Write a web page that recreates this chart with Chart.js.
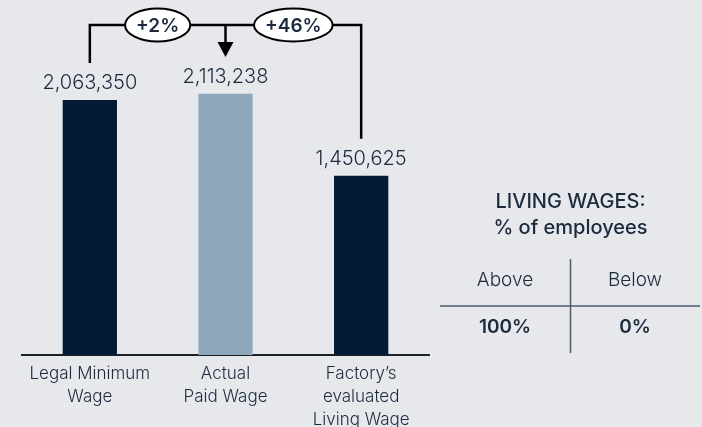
<!DOCTYPE html>
<html>
<head>
<meta charset="utf-8">
<script src="https://cdn.jsdelivr.net/npm/chart.js@4"></script>
<style>
  html, body { margin: 0; padding: 0; background: #e6e8ec; }
  canvas { display: block; }
</style>
</head>
<body>
<canvas id="wageChart" width="702" height="427"></canvas>
<script>
// Chart data
const categories = [['Legal Minimum', 'Wage'], ['Actual', 'Paid Wage'], ["Factory\u2019s", 'evaluated', 'Living Wage']];
const wageValues = [2063350, 2113238, 1450625];
const barColors = ['#021a33', '#8fa7ba', '#021a33'];
const gapLabels = ['+2%', '+46%'];

// Side table
const tableTitle = ['LIVING WAGES:', '% of employees'];
const tableHeaders = ['Above', 'Below'];
const tableValues = ['100%', '0%'];

const textColor = '#1b2a3d';
const fontFamily = 'Inter, "Noto Sans", sans-serif';

// value labels above bars
const valueLabels = {
    id: 'valueLabels',
    afterDatasetsDraw(chart) {
        const ctx = chart.ctx;
        const meta = chart.getDatasetMeta(0);
        ctx.save();
        ctx.fillStyle = textColor;
        ctx.font = '300 20px ' + fontFamily;
        ctx.textAlign = 'center';
        ctx.textBaseline = 'alphabetic';
        meta.data.forEach((bar, i) => {
            ctx.fillText(wageValues[i].toLocaleString('en-US'), bar.x, bar.y - 11);
        });
        ctx.restore();
    }
};

// bracket with percentage pills
const brackets = {
    id: 'brackets',
    afterDatasetsDraw(chart) {
        const ctx = chart.ctx;
        const bars = chart.getDatasetMeta(0).data;
        const lineY = chart.chartArea.top + 16;
        const x1 = bars[0].x, x2 = bars[1].x, x3 = bars[2].x;
        ctx.save();
        ctx.strokeStyle = '#000';
        ctx.lineWidth = 2.5;
        ctx.beginPath();
        ctx.moveTo(x1, bars[0].y - 37);
        ctx.lineTo(x1, lineY);
        ctx.lineTo(x3, lineY);
        ctx.lineTo(x3, bars[2].y - 37);
        ctx.stroke();
        // arrow down to the actual wage
        ctx.beginPath();
        ctx.moveTo(x2, lineY);
        ctx.lineTo(x2, lineY + 18);
        ctx.stroke();
        ctx.fillStyle = '#000';
        ctx.beginPath();
        ctx.moveTo(x2 - 8, lineY + 17);
        ctx.lineTo(x2 + 8, lineY + 17);
        ctx.lineTo(x2, lineY + 32);
        ctx.closePath();
        ctx.fill();

        ctx.font = '600 19px ' + fontFamily;
        ctx.textAlign = 'center';
        ctx.textBaseline = 'middle';
        const centers = [(x1 + x2) / 2, (x2 + x3) / 2];
        gapLabels.forEach((txt, i) => {
            const w = ctx.measureText(txt).width;
            ctx.beginPath();
            ctx.ellipse(centers[i], lineY, w / 2 + 11, 16.5, 0, 0, Math.PI * 2);
            ctx.fillStyle = '#fff';
            ctx.fill();
            ctx.lineWidth = 2;
            ctx.stroke();
            ctx.fillStyle = textColor;
            ctx.fillText(txt, centers[i], lineY + 1);
        });
        ctx.restore();
    }
};

// small table on the right
const sideTable = {
    id: 'sideTable',
    afterDraw(chart) {
        const ctx = chart.ctx;
        const cx = 570.5;
        ctx.save();
        ctx.fillStyle = textColor;
        ctx.textAlign = 'center';
        ctx.textBaseline = 'middle';
        ctx.font = '500 20px ' + fontFamily;
        ctx.fillText(tableTitle[0], cx, 202);
        ctx.fillText(tableTitle[1], cx, 228);

        ctx.strokeStyle = '#4b5b6b';
        ctx.lineWidth = 1.5;
        ctx.beginPath();
        ctx.moveTo(cx, 259);
        ctx.lineTo(cx, 353);
        ctx.moveTo(440, 306);
        ctx.lineTo(700, 306);
        ctx.stroke();

        const cols = [505, 635];
        ctx.font = '300 19px ' + fontFamily;
        tableHeaders.forEach((t, i) => ctx.fillText(t, cols[i], 280));
        ctx.font = '600 19px ' + fontFamily;
        tableValues.forEach((t, i) => ctx.fillText(t, cols[i], 327));
        ctx.restore();
    }
};

new Chart(document.getElementById('wageChart').getContext('2d'), {
    type: 'bar',
    data: {
        labels: categories,
        datasets: [{
            data: wageValues,
            backgroundColor: barColors,
            borderWidth: 0,
            barPercentage: 0.4,
            categoryPercentage: 1
        }]
    },
    options: {
        responsive: false,
        animation: false,
        layout: {
            padding: { left: 22, right: 273, top: 9, bottom: 0 }
        },
        scales: {
            y: {
                display: false,
                min: 0,
                max: 2800000
            },
            x: {
                grid: { display: false },
                border: { display: true, color: '#1b2024', width: 2 },
                ticks: {
                    color: textColor,
                    font: { family: fontFamily, size: 17, weight: 300, lineHeight: 1.33 },
                    padding: 0,
                    maxRotation: 0
                },
                afterFit(scale) {
                    scale.height = 72;
                }
            }
        },
        plugins: {
            legend: { display: false },
            tooltip: { enabled: false }
        }
    },
    plugins: [valueLabels, brackets, sideTable]
});
</script>
</body>
</html>
